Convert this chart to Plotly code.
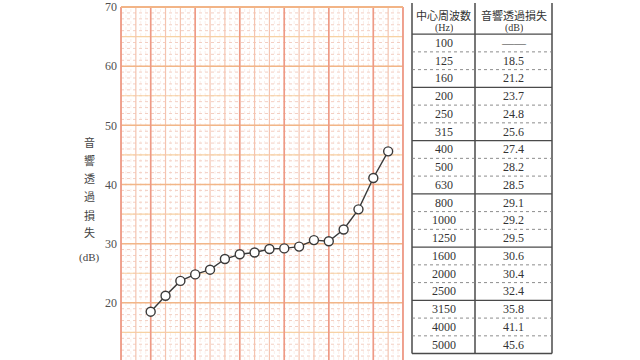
import plotly.graph_objects as go

# ---- data ----
bands = ["80", "100", "125", "160", "200", "250", "315", "400", "500", "630", "800",
         "1000", "1250", "1600", "2000", "2500", "3150", "4000", "5000", "6300"]
freqs = ["125", "160", "200", "250", "315", "400", "500", "630", "800",
         "1000", "1250", "1600", "2000", "2500", "3150", "4000", "5000"]
tl_db = [18.5, 21.2, 23.7, 24.8, 25.6, 27.4, 28.2, 28.5, 29.1,
         29.2, 29.5, 30.6, 30.4, 32.4, 35.8, 41.1, 45.6]
table_freqs = ["100"] + freqs
table_vals = ["——"] + [f"{v:.1f}" for v in tl_db]
y_ticks = [10, 20, 30, 40, 50, 60, 70]
y_title_chars = ["音", "響", "透", "過", "損", "失", "(dB)"]
header_left = ["中心周波数", "(Hz)"]
header_right = ["音響透過損失", "(dB)"]

W, H = 640, 360
L, R, T, B = 121, 403, 2, 360
YMAX = 70
YMIN = 70 - (B - T) / 6.0


def px(x):
    return (x - L) / (R - L)


def py(y):
    return (B - y) / (B - T)


fig = go.Figure()
fig.add_trace(go.Scatter(
    x=freqs, y=tl_db, mode="lines+markers",
    line=dict(color="#3a3a3a", width=1.4),
    marker=dict(symbol="circle", size=9, color="white",
                line=dict(color="#3a3a3a", width=1.4)),
    cliponaxis=False, hoverinfo="skip", showlegend=False))

shapes = []
nb = len(bands) - 1
# fine dotted grid
for k in range(nb * 3 + 1):
    if k % 3 == 0:
        continue
    xv = k / 3.0
    shapes.append(dict(type="line", xref="x", yref="paper", x0=xv, x1=xv, y0=0, y1=1,
                       line=dict(color="#fbeee8", width=1, dash="dot"), layer="below"))
for d in range(10, 71):
    shapes.append(dict(type="line", xref="paper", yref="y", x0=0, x1=1, y0=d, y1=d,
                       line=dict(color="#f3cfc3", width=1, dash="dot"), layer="below"))
# 5 dB lines
for d in range(15, 70, 10):
    shapes.append(dict(type="line", xref="paper", yref="y", x0=0, x1=1, y0=d, y1=d,
                       line=dict(color="#f7d2a4", width=1.2), layer="below"))
# band lines
for i in range(len(bands)):
    shapes.append(dict(type="line", xref="x", yref="paper", x0=i, x1=i, y0=0, y1=1,
                       line=dict(color="#f4c4b0", width=1.2), layer="below"))
# 10 dB lines
for d in range(10, 71, 10):
    shapes.append(dict(type="line", xref="paper", yref="y", x0=0, x1=1, y0=d, y1=d,
                       line=dict(color="#f2b688", width=1.5), layer="below"))
# octave lines
for f in ["125", "250", "500", "1000", "2000", "4000"]:
    i = bands.index(f)
    shapes.append(dict(type="line", xref="x", yref="paper", x0=i, x1=i, y0=0, y1=1,
                       line=dict(color="#ee9a86", width=1.6), layer="below"))
# border
for x0 in [0, 1]:
    shapes.append(dict(type="line", xref="paper", yref="paper", x0=x0, x1=x0, y0=0, y1=1,
                       line=dict(color="#ee9a86", width=1.8), layer="below"))
shapes.append(dict(type="line", xref="paper", yref="paper", x0=0, x1=1, y0=1, y1=1,
                   line=dict(color="#f2b486", width=1.8), layer="below"))

# ---- table ----
TL, TM, TR = 412, 475, 552
HDR = 29.5
RH = 18.0
TB = HDR + RH * len(table_freqs)
dark = "#4a4a4a"
for x in [TL, TM, TR]:
    shapes.append(dict(type="line", xref="paper", yref="paper", x0=px(x), x1=px(x),
                       y0=py(-2), y1=py(TB), line=dict(color=dark, width=1.5)))
shapes.append(dict(type="line", xref="paper", yref="paper", x0=px(TL), x1=px(TR),
                   y0=py(TB), y1=py(TB), line=dict(color=dark, width=1.5)))
shapes.append(dict(type="line", xref="paper", yref="paper", x0=px(TL), x1=px(TR),
                   y0=py(HDR), y1=py(HDR), line=dict(color=dark, width=1.2)))
for r in range(1, len(table_freqs)):
    yy = HDR + RH * r
    solid = (r % 3 == 0)
    shapes.append(dict(type="line", xref="paper", yref="paper", x0=px(TL), x1=px(TR),
                       y0=py(yy), y1=py(yy),
                       line=dict(color=dark if solid else "#808080",
                                 width=1.1 if solid else 0.9,
                                 dash="solid" if solid else "dot")))

annotations = []
serif = "Liberation Serif, Noto Sans CJK JP"
cx_l = (TL + TM) / 2
cx_r = (TM + TR) / 2
for j, (a, b) in enumerate(zip(header_left, header_right)):
    yy = 11 if j == 0 else 22.5
    for cx, t in [(cx_l, a), (cx_r, b)]:
        annotations.append(dict(x=px(cx), y=py(yy), xref="paper", yref="paper", text=t,
                                showarrow=False, xanchor="center", yanchor="middle",
                                height=11, valign="middle",
                                font=dict(family=serif, size=11 if j == 0 else 10,
                                          color="#333333")))
for r, (f, v) in enumerate(zip(table_freqs, table_vals)):
    yy = HDR + RH * r + RH / 2
    annotations.append(dict(x=px(cx_l), y=py(yy), xref="paper", yref="paper", text=f,
                            showarrow=False, xanchor="center", yanchor="middle",
                            font=dict(family=serif, size=12, color="#333333")))
    annotations.append(dict(x=px(cx_r), y=py(yy), xref="paper", yref="paper", text=v,
                            showarrow=False, xanchor="center", yanchor="middle",
                            font=dict(family=serif, size=12, color="#333333")))

# y-axis title (vertical stacked characters)
for k, ch in enumerate(y_title_chars):
    yy = 139 + k * 18.5 + (6 if ch == "(dB)" else 0)
    annotations.append(dict(x=px(89), y=py(yy), xref="paper", yref="paper", text=ch,
                            showarrow=False, xanchor="center", yanchor="middle",
                            font=dict(family=serif, size=11, color="#444444")))

fig.update_layout(
    width=W, height=H,
    margin=dict(l=L, r=W - R, t=T, b=H - B, pad=0),
    paper_bgcolor="white", plot_bgcolor="white",
    font=dict(family="Liberation Serif", color="#444444"),
    showlegend=False,
    shapes=shapes, annotations=annotations,
    xaxis=dict(type="category", categoryorder="array", categoryarray=bands,
               range=[0, nb], showgrid=False, showticklabels=False, zeroline=False,
               showline=False, ticks="", fixedrange=True),
    yaxis=dict(range=[YMIN, YMAX], tickvals=y_ticks, ticktext=[str(v) for v in y_ticks],
               showgrid=False, zeroline=False, showline=False, ticks="",
               ticklabelstandoff=3, ticklabeloverflow="allow",
               tickfont=dict(family="Liberation Serif", size=12, color="#505050"),
               fixedrange=True),
)
fig.write_html("out.html", config={"displayModeBar": False, "staticPlot": True},
               post_script="document.body.style.margin='0';")
